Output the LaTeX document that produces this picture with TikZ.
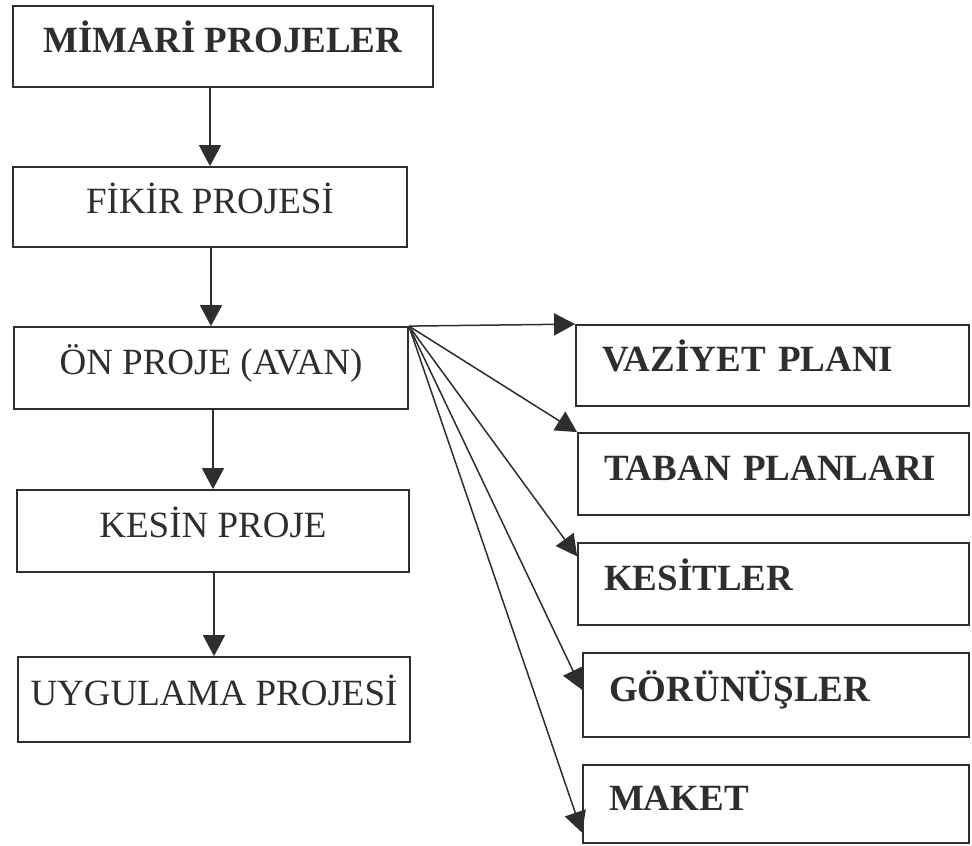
\documentclass[tikz,border=0pt]{standalone}
\usepackage{fontspec}
\setmainfont{Liberation Serif}
\usetikzlibrary{arrows.meta,calc}
\definecolor{ink}{HTML}{2E2E2E}
\begin{document}
\begin{tikzpicture}[x=1pt,y=-1pt,
  box/.style={draw=ink, line width=1.8pt, text=ink, inner sep=0pt,
    font=\fontsize{37}{44}\selectfont, text height=24.5pt, text depth=12.5pt},
  lbox/.style={box},
  bbox/.style={box, font=\fontsize{37}{44}\selectfont\bfseries},
  rbox/.style={box, font=\fontsize{37}{44}\selectfont\bfseries, align=left, inner xsep=26pt},
  arr/.style={draw=ink, line width=1.5pt, -{Triangle[length=21pt,width=22pt]}}
]
\useasboundingbox (0,0) rectangle (972,846);
\fill[white] (0,0) rectangle (972,846);

% left column
\node[bbox, minimum width=420pt, minimum height=81pt] (mim) at (223,46.5) {MİMARİ PROJELER};
\node[lbox, minimum width=394pt, minimum height=80pt] (fik) at (210,207) {FİKİR PROJESİ};
\node[lbox, minimum width=394pt, minimum height=82pt] (on) at (211,368) {ÖN PROJE (AVAN)};
\node[lbox, minimum width=392pt, minimum height=82pt] (kes) at (213,531) {KESİN PROJE};
\node[lbox, minimum width=392pt, minimum height=85pt] (uyg) at (214,699.5) {UYGULAMA PROJESİ};

% right column
\node[rbox, minimum width=393pt, text width=341pt, minimum height=81pt] (vaz) at (772.5,365.5) {VAZİYET PLANI};
\node[rbox, minimum width=391pt, text width=339pt, minimum height=82pt] (tab) at (773.5,474) {TABAN PLANLARI};
\node[rbox, minimum width=391pt, text width=339pt, minimum height=82pt] (kst) at (773.5,584) {KESİTLER};
\node[rbox, minimum width=386pt, text width=334pt, minimum height=84pt] (gor) at (776,695) {GÖRÜNÜŞLER};
\node[rbox, minimum width=386pt, text width=334pt, minimum height=78pt] (mak) at (776,804) {MAKET};

% vertical flow
\draw[arr] (mim.south -| fik.north) -- (fik.north);
\draw[arr] (fik.south -| on.north) -- (on.north);
\draw[arr] (on.south -| kes.north) -- (kes.north);
\draw[arr] (kes.south -| uyg.north) -- (uyg.north);

% fan
\draw[arr] (on.north east) -- (vaz.north west);
\draw[arr] (on.north east) -- (tab.north west);
\draw[arr] (on.north east) -- ($(kst.north west)!0.17!(kst.south west)$);
\draw[arr] (on.north east) -- ($(gor.north west)!0.44!(gor.south west)$);
\draw[arr] (on.north east) -- ($(mak.north west)!0.86!(mak.south west)$);
\end{tikzpicture}
\end{document}
